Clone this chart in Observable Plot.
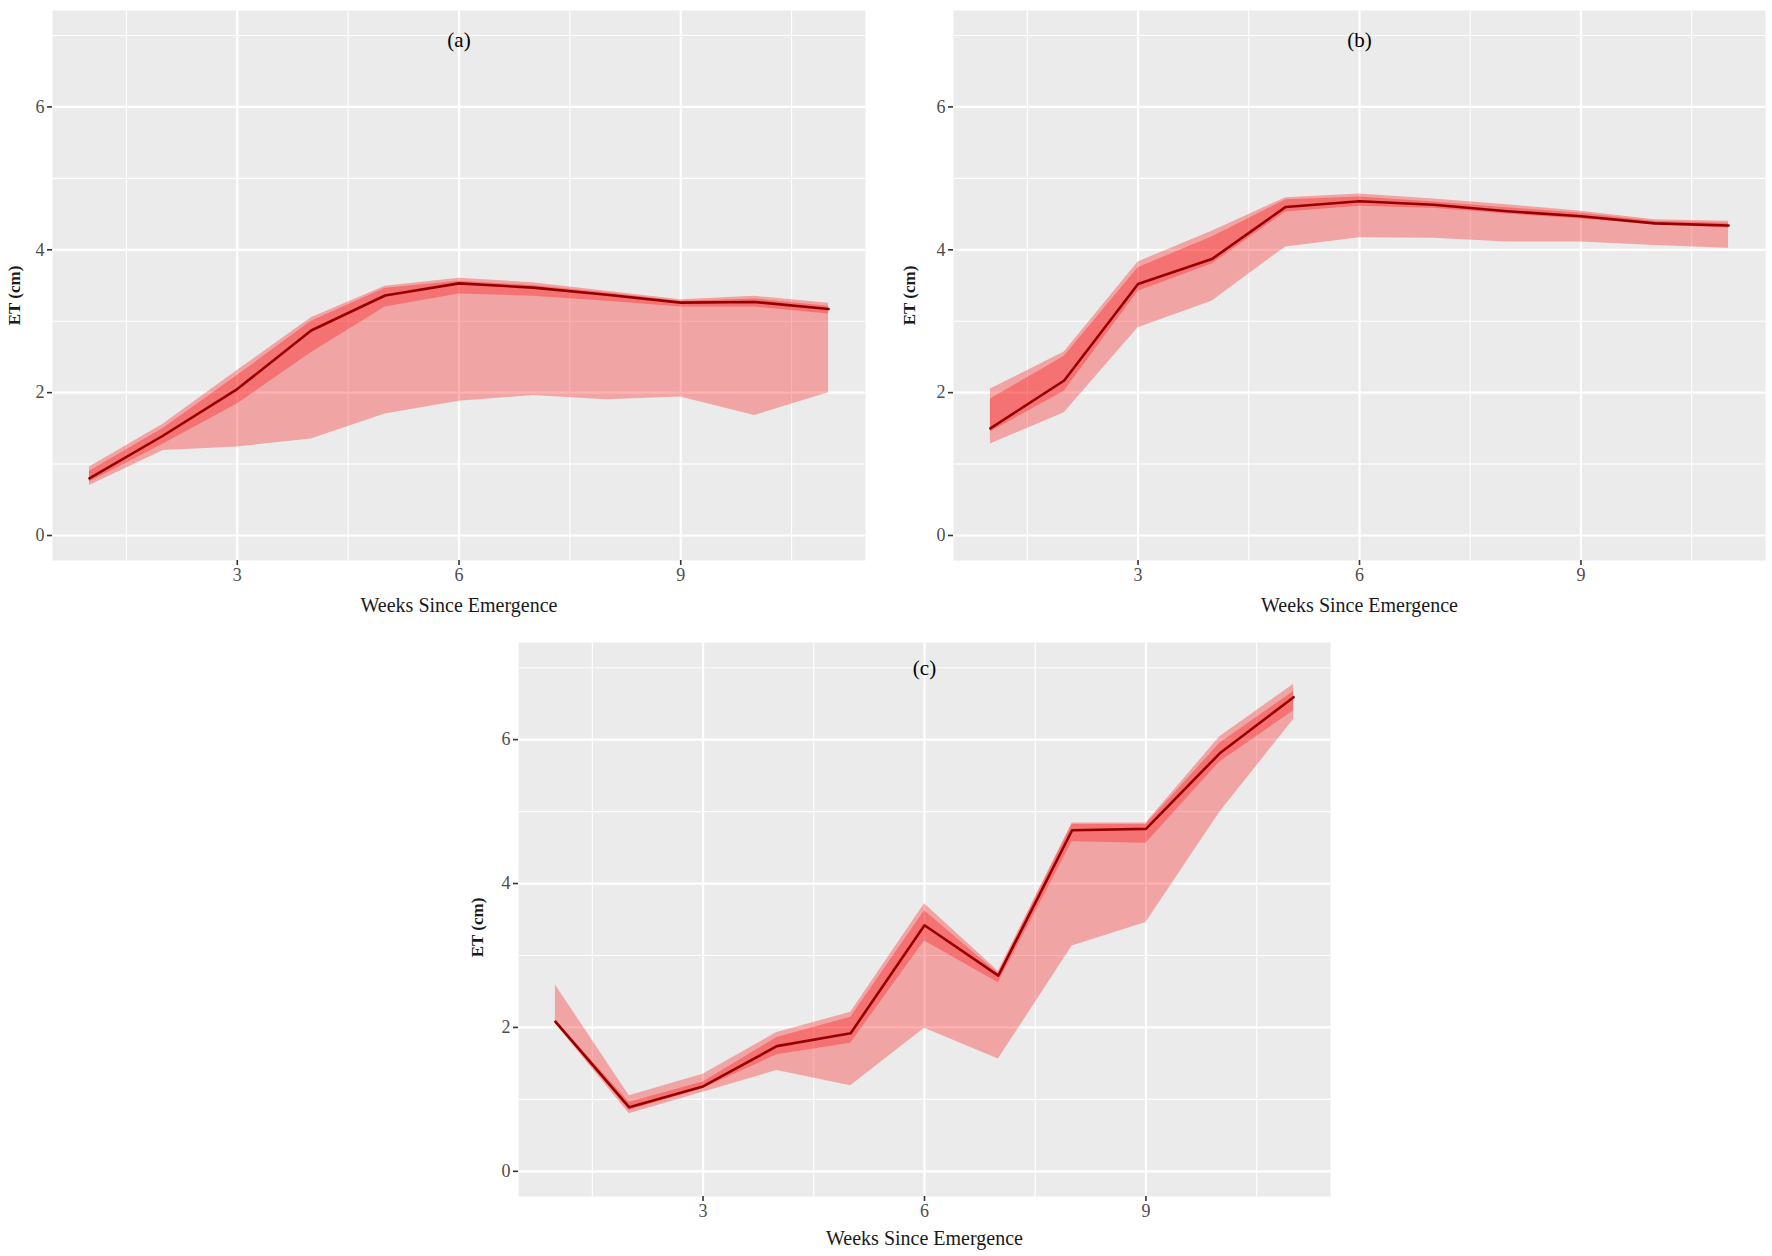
<!DOCTYPE html>
<html><head><meta charset="utf-8">
<script src="https://cdn.jsdelivr.net/npm/d3@7"></script>
<script src="https://cdn.jsdelivr.net/npm/@observablehq/plot@0.6"></script>
<style>
html,body{margin:0;padding:0;background:#fff;}
#wrap{position:relative;width:1772px;height:1256px;overflow:hidden;background:#fff;}
#wrap svg{position:absolute;overflow:visible;}
</style></head><body><div id="wrap"></div>
<script>
// Weeks since emergence
const weeks = [1, 2, 3, 4, 5, 6, 7, 8, 9, 10, 11];

// Panel (a)
const aMean    = [0.80, 1.40, 2.05, 2.87, 3.36, 3.53, 3.47, 3.37, 3.26, 3.27, 3.17];
const aOuterLo = [0.70, 1.19, 1.24, 1.35, 1.70, 1.88, 1.96, 1.90, 1.94, 1.68, 2.00];
const aOuterHi = [0.96, 1.56, 2.31, 3.05, 3.49, 3.60, 3.54, 3.42, 3.30, 3.35, 3.25];
const aInnerLo = [0.75, 1.28, 1.84, 2.56, 3.20, 3.38, 3.35, 3.28, 3.20, 3.20, 3.10];
const aInnerHi = [0.90, 1.50, 2.24, 3.00, 3.46, 3.56, 3.50, 3.40, 3.28, 3.31, 3.21];

// Panel (b)
const bMean    = [1.50, 2.17, 3.52, 3.87, 4.60, 4.68, 4.63, 4.54, 4.47, 4.37, 4.34];
const bOuterLo = [1.28, 1.72, 2.91, 3.28, 4.04, 4.17, 4.16, 4.11, 4.11, 4.06, 4.02];
const bOuterHi = [2.05, 2.57, 3.83, 4.26, 4.73, 4.78, 4.71, 4.63, 4.54, 4.42, 4.40];
const bInnerLo = [1.45, 2.02, 3.42, 3.80, 4.53, 4.61, 4.58, 4.50, 4.43, 4.35, 4.30];
const bInnerHi = [1.91, 2.51, 3.75, 4.18, 4.70, 4.74, 4.67, 4.59, 4.51, 4.40, 4.37];

// Panel (c)
const cMean    = [2.08, 0.89, 1.18, 1.74, 1.92, 3.42, 2.72, 4.74, 4.76, 5.81, 6.59];
const cOuterLo = [2.05, 0.80, 1.10, 1.40, 1.19, 1.99, 1.56, 3.13, 3.46, 4.99, 6.28];
const cOuterHi = [2.59, 1.05, 1.35, 1.93, 2.21, 3.72, 2.78, 4.84, 4.84, 6.04, 6.77];
const cInnerLo = [2.06, 0.85, 1.15, 1.62, 1.78, 3.20, 2.62, 4.58, 4.56, 5.69, 6.40];
const cInnerHi = [2.10, 0.96, 1.24, 1.86, 2.14, 3.62, 2.75, 4.82, 4.82, 5.95, 6.67];

// Tick / grid values
const xMajor = [3, 6, 9];
const xMinor = [1.5, 4.5, 7.5, 10.5];
const yMajor = [0, 2, 4, 6];
const yMinor = [1, 3, 5, 7];

const xTitle = "Weeks Since Emergence";
const yTitle = "ET (cm)";

const FONT = "'Liberation Serif', 'Times New Roman', serif";

function panel(cfg) {
  const rows = weeks.map((w, i) => ({
    week: w, mean: cfg.mean[i],
    oLo: cfg.outerLo[i], oHi: cfg.outerHi[i],
    iLo: cfg.innerLo[i], iHi: cfg.innerHi[i]
  }));
  const svg = Plot.plot({
    width: cfg.width, height: cfg.height,
    marginLeft: cfg.mL, marginRight: cfg.mR, marginTop: cfg.mT, marginBottom: cfg.mB,
    style: {fontFamily: FONT, background: "transparent", overflow: "visible"},
    x: {domain: [0.5, 11.5], axis: null},
    y: {domain: [-0.35, 7.35], axis: null},
    marks: [
      Plot.frame({fill: "#ebebeb", stroke: null}),
      Plot.ruleX(xMinor, {stroke: "white", strokeWidth: 1.1}),
      Plot.ruleY(yMinor, {stroke: "white", strokeWidth: 1.1}),
      Plot.ruleX(xMajor, {stroke: "white", strokeWidth: 2.2}),
      Plot.ruleY(yMajor, {stroke: "white", strokeWidth: 2.2}),
      Plot.areaY(rows, {x: "week", y1: "oLo", y2: "oHi", fill: "red", fillOpacity: 0.3}),
      Plot.areaY(rows, {x: "week", y1: "iLo", y2: "iHi", fill: "red", fillOpacity: 0.3}),
      Plot.line(rows, {x: "week", y: "mean", stroke: "#960000", strokeWidth: 2.6}),
      Plot.axisX(xMajor, {tickSize: 5, tickPadding: 3, fontSize: 18, fill: "#4d4d4d", stroke: "#333", strokeWidth: 1.6, label: null, tickFormat: d => String(d)}),
      Plot.axisY(yMajor, {tickSize: 5, tickPadding: 3, fontSize: 18, fill: "#4d4d4d", stroke: "#333", strokeWidth: 1.6, label: null, tickFormat: d => String(d)}),
      Plot.text([xTitle], {text: d => d, frameAnchor: "bottom", dy: cfg.xTitleDy, fontSize: 20, fill: "#1a1a1a", lineAnchor: "middle", textAnchor: "middle"}),
      Plot.text([yTitle], {text: d => d, frameAnchor: "left", dx: cfg.yTitleDx, dy: cfg.yTitleDy, rotate: -90, fontSize: 17, fontWeight: "bold", fill: "#1a1a1a", textAnchor: "middle", lineAnchor: "middle"}),
      Plot.text([cfg.label], {text: d => d, frameAnchor: "top", dy: cfg.titleDy, fontSize: 21, fill: "black", lineAnchor: "middle", textAnchor: "middle"})
    ]
  });
  svg.style.left = cfg.left + "px";
  svg.style.top = cfg.top + "px";
  document.getElementById("wrap").appendChild(svg);
}

panel({label: "(a)", mean: aMean, outerLo: aOuterLo, outerHi: aOuterHi, innerLo: aInnerLo, innerHi: aInnerHi,
  left: 0, top: 0, width: 886, height: 628, mL: 52, mR: 21, mT: 10, mB: 68, xTitleDy: 45, yTitleDx: -38, yTitleDy: 10, titleDy: 30});
panel({label: "(b)", mean: bMean, outerLo: bOuterLo, outerHi: bOuterHi, innerLo: bInnerLo, innerHi: bInnerHi,
  left: 886, top: 0, width: 886, height: 628, mL: 67, mR: 7, mT: 10, mB: 68, xTitleDy: 45, yTitleDx: -44, yTitleDy: 10, titleDy: 30});
panel({label: "(c)", mean: cMean, outerLo: cOuterLo, outerHi: cOuterHi, innerLo: cInnerLo, innerHi: cInnerHi,
  left: 443, top: 628, width: 900, height: 628, mL: 75, mR: 13, mT: 14, mB: 60, xTitleDy: 42, yTitleDx: -41, yTitleDy: 8, titleDy: 26});
</script>
</body></html>
